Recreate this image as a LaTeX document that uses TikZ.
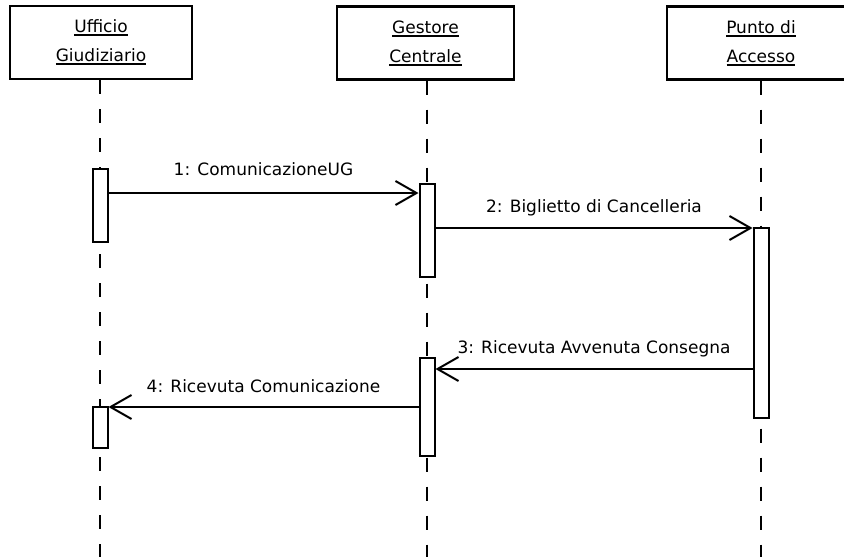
\documentclass[tikz,border=0pt]{standalone}
\usepackage{fontspec}
\setmainfont{DejaVu Sans}
\usetikzlibrary{arrows.meta}
% underlined header word
\newcommand\hdr[1]{\sbox0{#1}\usebox0\llap{\rule[-3.5pt]{\wd0}{2pt}}}
\begin{document}
\begin{tikzpicture}[x=1pt,y=-1pt,
  actor/.style={draw,line width=2.2pt,rectangle,minimum width=182pt,minimum height=73pt,
    inner sep=0pt,align=center,font=\fontsize{17}{29}\selectfont},
  lifeline/.style={line width=2.2pt,dash pattern=on 14pt off 15pt},
  activation/.style={draw,line width=2pt,fill=white,rectangle,minimum width=15pt,inner sep=0pt},
  msg/.style={line width=2pt,-{Straight Barb[length=21pt,width=24pt,line width=2pt]}},
  msglabel/.style={anchor=base,inner sep=0pt,font=\fontsize{17}{20}\selectfont}]
\useasboundingbox[fill=white] (0,0) rectangle (844,557);
\begin{scope}
\clip (0,0) rectangle (844,557);

% participants
\node[actor] (uff) at (101,42.5) {\hdr{Ufficio}\\\hdr{Giudiziario}};
\node[actor,minimum width=177pt] (ges) at (425.5,43) {\hdr{Gestore}\\\hdr{Centrale}};
\node[actor,minimum width=188pt] (pun) at (761,43) {\hdr{Punto di}\\\hdr{Accesso}};

% lifeline ends
\coordinate (endU) at (100,557);
\coordinate (endG) at (427,557);
\coordinate (endP) at (761,557);
\draw[lifeline] (uff.south -| endU) -- (endU);
\draw[lifeline] (ges.south -| endG) -- (endG);
\draw[lifeline] (pun.south -| endP) -- (endP);

% activation bars
\node[activation,minimum height=73pt] (b1a) at (100,205.5) {};
\node[activation,minimum height=93pt] (b2a) at (427,230.5) {};
\node[activation,minimum height=190pt] (b3) at (761,323) {};
\node[activation,minimum height=98pt] (b2b) at (427,407) {};
\node[activation,minimum height=41pt] (b1b) at (100,427.5) {};

% message heights
\coordinate (m1) at (0,193);
\coordinate (m2) at (0,228);
\coordinate (m3) at (0,369);
\coordinate (m4) at (0,407);

\draw[msg] (b1a.east |- m1) -- node[msglabel,yshift=18pt] {1: ComunicazioneUG} (b2a.west |- m1);
\draw[msg] (b2a.east |- m2) -- node[msglabel,yshift=16pt] {2: Biglietto di Cancelleria} (b3.west |- m2);
\draw[msg] (b3.west |- m3) -- node[msglabel,yshift=16pt] {3: Ricevuta Avvenuta Consegna} (b2b.east |- m3);
\draw[msg] (b2b.west |- m4) -- node[msglabel,yshift=15pt] {4: Ricevuta Comunicazione} (b1b.east |- m4);
\end{scope}
\end{tikzpicture}
\end{document}
